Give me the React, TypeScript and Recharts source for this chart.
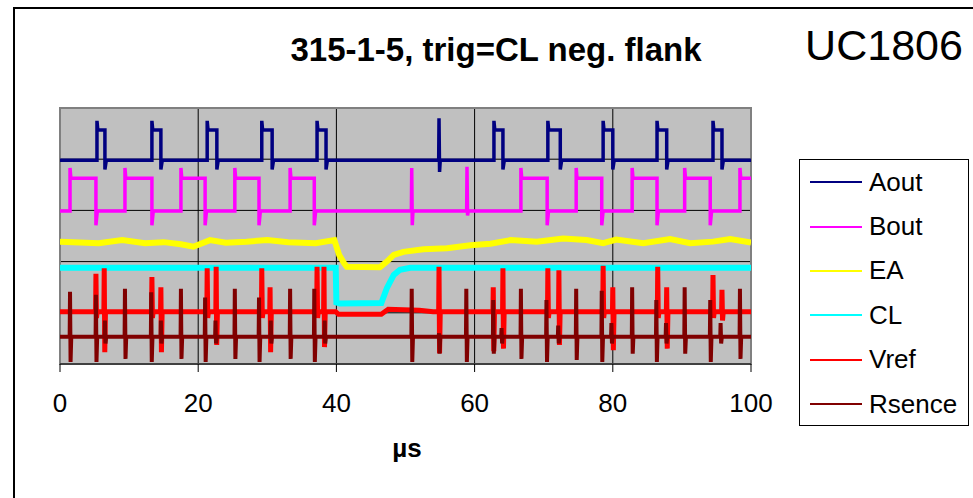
import React from "react";
import { CartesianGrid, Line, LineChart, ReferenceArea, XAxis, YAxis } from "recharts";

type Pt = { t: number; v: number };
type Spike = [number, number, number]; // [time, up, down]

// edge times (µs)
const aoutRise = [5.35, 13.3, 21.3, 29.2, 37.2, 62.8, 70.6, 78.6, 86.4, 94.5];
const aoutFall = [6.5, 14.6, 22.7, 30.7, 38.5, 64.1, 72.4, 80.0, 87.8, 95.8];
const aoutLevels = { low: 3.98, high: 4.57, peak: 4.75, under: 3.8 };
const aoutGlitch: Spike[] = [[54.85, 4.8, 3.75]];

const boutRise = [1.45, 9.4, 17.5, 25.3, 33.3, 66.7, 74.7, 82.8, 90.4, 98.4];
const boutFall = [5.2, 13.3, 21.0, 28.8, 36.8, 70.5, 78.4, 86.4, 94.1];
const boutLevels = { low: 2.99, high: 3.63, peak: 3.83, under: 2.71 };
const boutGlitch: Spike[] = [[50.9, 3.83, 2.71], [58.9, 3.85, 2.9]];

const eaTrace = [
  [0, 2.39], [5.6, 2.36], [9, 2.42], [12.3, 2.36], [15, 2.38], [17.5, 2.34], [19.3, 2.29],
  [21.7, 2.42], [24, 2.37], [27, 2.39], [30, 2.42], [33, 2.38], [37, 2.36], [39.7, 2.42],
  [40.4, 2.13], [41.1, 1.97], [41.5, 1.9], [46.3, 1.89], [47.3, 2.0], [48.3, 2.13],
  [49.7, 2.19], [52.6, 2.24], [56, 2.26], [59.4, 2.32], [62.3, 2.35], [65.2, 2.42],
  [69, 2.39], [72.8, 2.45], [76.2, 2.42], [78.6, 2.36], [80.5, 2.43], [84.4, 2.36],
  [88.3, 2.44], [91.2, 2.36], [94.5, 2.39], [97, 2.44], [100, 2.37],
];

const clTrace = [
  [0, 1.88], [39.9, 1.88], [40.0, 1.2], [40.5, 1.18], [46.5, 1.19], [47.3, 1.48],
  [48.3, 1.74], [49.2, 1.84], [50.7, 1.88], [100, 1.88],
];

const vrefBase = [
  [0, 1.02], [39.9, 1.02], [40.3, 0.97], [46.5, 0.97], [47.5, 1.07], [52, 1.05], [54, 1.02], [100, 1.02],
];
const vrefSpikes: Spike[] = [
  [5.2, 1.76, 0.9], [6.4, 1.87, 0.23], [13.3, 1.7, 0.9], [14.6, 1.5, 0.23], [21.3, 1.87, 0.9],
  [22.6, 1.9, 0.37], [29.2, 1.87, 0.9], [30.4, 1.5, 0.23], [37.2, 1.9, 0.9], [38.2, 1.9, 0.33],
  [54.85, 1.9, 0.21], [62.7, 1.5, 0.25], [64.1, 1.87, 0.3], [70.6, 1.87, 0.9], [72.2, 1.83, 0.37],
  [78.6, 1.92, 0.9], [80.0, 1.5, 0.27], [86.5, 1.9, 0.9], [87.8, 1.5, 0.3], [94.5, 1.74, 0.9],
  [95.8, 1.45, 0.85],
];

const rsenceBase = 0.53;
const rsenceSpikes: Spike[] = [
  [1.45, 1.41, 0.04], [5.2, 1.35, 0.04], [6.5, 0.85, 0.4], [9.4, 1.47, 0.1], [13.2, 1.4, 0.04],
  [14.6, 0.85, 0.4], [17.5, 1.47, 0.1], [21.0, 1.3, 0.04], [22.5, 0.85, 0.4], [25.3, 1.47, 0.1],
  [28.8, 1.3, 0.04], [30.5, 0.85, 0.4], [33.3, 1.47, 0.1], [36.8, 1.47, 0.04], [38.3, 0.85, 0.4],
  [50.9, 1.47, 0.04], [54.85, 0.6, 0.2], [58.8, 1.47, 0.04], [62.7, 1.25, 0.2], [63.9, 0.7, 0.4],
  [66.7, 1.47, 0.1], [70.4, 1.25, 0.04], [72.1, 0.75, 0.4], [74.7, 1.47, 0.08], [78.4, 1.43, 0.04],
  [79.8, 0.8, 0.4], [82.8, 1.5, 0.2], [86.3, 1.25, 0.04], [87.7, 0.8, 0.4], [90.4, 1.5, 0.2],
  [94.1, 1.25, 0.04], [95.6, 0.8, 0.4], [98.4, 1.47, 0.1],
];

const xTicks = [0, 20, 40, 60, 80, 100];
const yTicks = [0, 1, 2, 3, 4, 5];

const seriesNames = ["Aout", "Bout", "EA", "CL", "Vref", "Rsence"];
const seriesColors = ["#000080", "#FF00FF", "#FFFF00", "#00FFFF", "#FF0000", "#800000"];
const seriesWidths = [3.5, 3.5, 6, 6, 5, 4];

const toPts = (arr: number[][]): Pt[] => arr.map(([t, v]) => ({ t, v }));

function spikePts(base: number, list: Spike[]): number[][] {
  const out: number[][] = [];
  list.forEach(([t, up, down]) => {
    out.push([t - 0.05, base], [t, up], [t + 0.08, down], [t + 0.18, base]);
  });
  return out;
}

function pulseTrace(rises: number[], falls: number[], lv: any, glitches: Spike[]): Pt[] {
  const pts: number[][] = [[0, lv.low]];
  rises.forEach((r) => pts.push([r, lv.low], [r, lv.peak], [r + 0.12, lv.high]));
  falls.forEach((f) => pts.push([f, lv.high], [f, lv.under], [f + 0.2, lv.low]));
  pts.push(...spikePts(lv.low, glitches));
  pts.sort((a, b) => a[0] - b[0]);
  pts.push([100, rises.length > falls.length ? lv.high : lv.low]);
  return toPts(pts);
}

function spikyTrace(base: number[][], spikes: Spike[], level: number): Pt[] {
  const pts = [...base, ...spikePts(level, spikes)];
  pts.sort((a, b) => a[0] - b[0]);
  return toPts(pts);
}

const traces: Pt[][] = [
  pulseTrace(aoutRise, aoutFall, aoutLevels, aoutGlitch),
  pulseTrace(boutRise, boutFall, boutLevels, boutGlitch),
  toPts(eaTrace),
  toPts(clTrace),
  spikyTrace(vrefBase, vrefSpikes, 1.02),
  spikyTrace([[0, rsenceBase], [100, rsenceBase]], rsenceSpikes, rsenceBase),
];

const font = "'Liberation Sans', Arial, sans-serif";

function ScopeLegend() {
  return (
    <div
      style={{
        position: "absolute",
        left: 799,
        top: 159,
        width: 170,
        height: 267,
        boxSizing: "border-box",
        border: "1px solid #000",
        background: "#fff",
        fontFamily: font,
        fontSize: 26,
      }}
    >
      {seriesNames.map((name, i) => (
        <div key={name} style={{ height: 44.4, display: "flex", alignItems: "center" }}>
          <div style={{ width: 52, height: 2, background: seriesColors[i], marginLeft: 10, marginRight: 7 }} />
          <span>{name}</span>
        </div>
      ))}
    </div>
  );
}

export default function App() {
  return (
    <div style={{ position: "absolute", left: 0, top: 0, width: 973, height: 498, overflow: "hidden", background: "#fff" }}>
      {/* chart frame */}
      <div style={{ position: "absolute", left: 13, top: 7, width: 1200, height: 800, border: "2px solid #000" }} />
      <div style={{ position: "absolute", left: 0, top: 0 }}>
        <LineChart width={973} height={498} margin={{ top: 108, right: 222, bottom: 94, left: 60 }}>
          <CartesianGrid fill="#C0C0C0" stroke="#000" strokeWidth={1} fillOpacity={1} />
          <XAxis
            type="number"
            dataKey="t"
            domain={[0, 100]}
            ticks={xTicks}
            allowDataOverflow
            height={40}
            tickSize={8}
            tickMargin={22}
            axisLine={{ stroke: "#000", strokeWidth: 1 }}
            tickLine={{ stroke: "#000" }}
            tick={{ fill: "#000", fontSize: 26, fontFamily: font }}
          />
          <YAxis hide type="number" domain={[0, 5]} ticks={yTicks} allowDataOverflow />
          {traces.map((d, i) => (
            <Line
              key={seriesNames[i]}
              data={d}
              dataKey="v"
              name={seriesNames[i]}
              type="linear"
              stroke={seriesColors[i]}
              strokeWidth={seriesWidths[i]}
              dot={false}
              activeDot={false}
              isAnimationActive={false}
            />
          ))}
          <ReferenceArea x1={0} x2={100} y1={0} y2={5} fill="none" stroke="#808080" strokeWidth={2} />
        </LineChart>
      </div>
      <ScopeLegend />
      <svg width={973} height={498} style={{ position: "absolute", left: 0, top: 0, pointerEvents: "none" }}>
        <text x={496} y={61} textAnchor="middle" fontFamily={font} fontWeight="bold" fontSize={33}>
          315-1-5, trig=CL neg. flank
        </text>
        <text x={884} y={60} textAnchor="middle" fontFamily={font} fontSize={43}>
          UC1806
        </text>
        <text x={407} y={457} textAnchor="middle" fontFamily={font} fontWeight="bold" fontSize={26}>
          µs
        </text>
      </svg>
    </div>
  );
}
